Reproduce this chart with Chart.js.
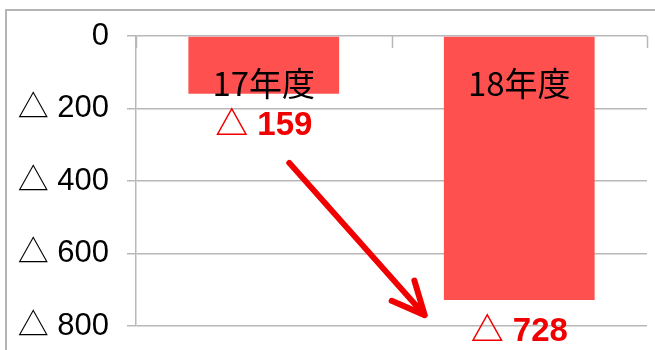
<!DOCTYPE html>
<html>
<head>
<meta charset="utf-8">
<script src="https://cdn.jsdelivr.net/npm/chart.js@4"></script>
<style>
  body { margin: 0; background: #fff; }
  .wrap { position: relative; width: 655px; height: 350px; }
  .frame {
    position: absolute; left: 5px; top: 9px; right: 0; bottom: 0;
    border-top: 2px solid #b4b4b4; border-left: 2px solid #b4b4b4;
  }
  canvas { position: absolute; left: 0; top: 0; }
</style>
</head>
<body>
<div class="wrap">
  <div class="frame"></div>
  <canvas id="deficit" width="655" height="350"></canvas>
</div>
<script>
const years = ["17年度", "18年度"];
const deficits = [159, 728];
const yTicks = [0, 200, 400, 600, 800];
// arrow drawn between two points given as [category index, value]
const arrowFrom = [0.1, 350];
const arrowTo = [0.63, 770];

const RED = "#f00000";
const BAR = "#ff5050";
const GRID = "#b8b8b8";
const FONT = "'Liberation Sans', 'Noto Sans CJK JP'";

const fmt = (v) => (v === 0 ? "0" : "△ " + v);

const barLabels = {
  id: "barLabels",
  afterDatasetsDraw(chart) {
    const ctx = chart.ctx;
    const x = chart.scales.x;
    const y = chart.scales.y;
    const area = chart.chartArea;

    // short tick marks on the top axis between categories
    ctx.save();
    ctx.strokeStyle = GRID;
    ctx.lineWidth = 1.5;
    for (let i = 0; i <= years.length; i++) {
      const px = Math.round(x.getPixelForValue(i - 0.5)) + 0.5;
      ctx.beginPath();
      ctx.moveTo(px, area.top);
      ctx.lineTo(px, area.top + 12);
      ctx.stroke();
    }
    ctx.restore();

    const meta = chart.getDatasetMeta(0);
    meta.data.forEach((bar, i) => {
      ctx.save();
      ctx.textAlign = "center";
      ctx.textBaseline = "middle";
      ctx.fillStyle = "#000";
      ctx.font = "33px 'Liberation Sans Narrow', 'Noto Sans CJK JP'";
      ctx.fillText(years[i], bar.x, bar.base + 47);
      ctx.fillStyle = RED;
      ctx.font = "bold 33px " + FONT;
      ctx.fillText(fmt(deficits[i]), bar.x, bar.y + 32);
      ctx.restore();
    });

    // arrow
    const x0 = x.getPixelForValue(arrowFrom[0]);
    const y0 = y.getPixelForValue(arrowFrom[1]);
    const x1 = x.getPixelForValue(arrowTo[0]);
    const y1 = y.getPixelForValue(arrowTo[1]);
    const ang = Math.atan2(y1 - y0, x1 - x0);
    const head = 36;
    const spread = Math.PI * 25 / 180;
    ctx.save();
    ctx.strokeStyle = RED;
    ctx.lineWidth = 6;
    ctx.lineCap = "round";
    ctx.lineJoin = "round";
    ctx.beginPath();
    ctx.moveTo(x0, y0);
    ctx.lineTo(x1, y1);
    ctx.moveTo(x1 - head * Math.cos(ang - spread), y1 - head * Math.sin(ang - spread));
    ctx.lineTo(x1, y1);
    ctx.lineTo(x1 - head * Math.cos(ang + spread), y1 - head * Math.sin(ang + spread));
    ctx.stroke();
    ctx.restore();
  },
};

new Chart(document.getElementById("deficit"), {
  type: "bar",
  data: {
    labels: years,
    datasets: [
      {
        data: deficits,
        backgroundColor: BAR,
        borderWidth: 0,
        barPercentage: 0.59,
        categoryPercentage: 1,
      },
    ],
  },
  options: {
    responsive: false,
    animation: false,
    devicePixelRatio: 1,
    layout: { padding: { left: 0, right: 8, top: 36, bottom: 24 } },
    plugins: { legend: { display: false }, tooltip: { enabled: false } },
    scales: {
      x: { display: false },
      y: {
        reverse: true,
        min: 0,
        max: 800,
        afterFit(scale) {
          scale.width = 136;
          // let the layout padding alone decide the plot's top and bottom
          scale.paddingTop = 0;
          scale.paddingBottom = 0;
        },
        afterBuildTicks(scale) { scale.ticks = yTicks.map((v) => ({ value: v })); },
        ticks: {
          callback: fmt,
          color: "#000",
          padding: 18,
          font: { family: FONT, size: 31 },
        },
        grid: { color: GRID, lineWidth: 1.5, tickLength: 9 },
        border: { color: GRID, width: 1.5 },
      },
    },
  },
  plugins: [barLabels],
});
</script>
</body>
</html>
